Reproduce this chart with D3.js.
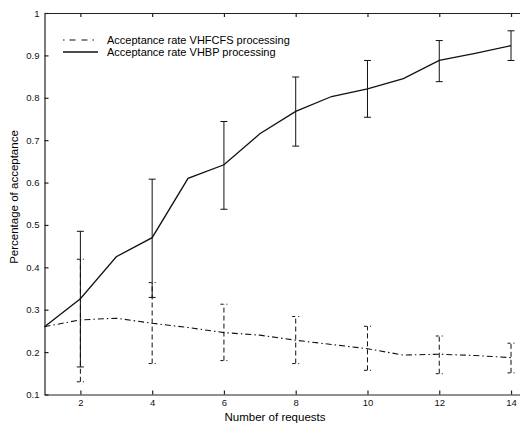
<!DOCTYPE html>
<html>
<head>
<meta charset="utf-8">
<script src="https://cdn.jsdelivr.net/npm/d3@7"></script>
<style>
	body { margin: 0; background: #fff; }
	svg { display: block; font-family: 'Liberation Sans', Arial, sans-serif; }
	.axis path, .axis line { stroke: #222; stroke-width: 1.2; }
	.axis text { font-size: 9.5px; fill: #111; }
</style>
</head>
<body>
<script>
// data
const requests = [1, 2, 3, 4, 5, 6, 7, 8, 9, 10, 11, 12, 13, 14]
const rateVHBP = [0.26, 0.326, 0.425, 0.47, 0.61, 0.642, 0.715, 0.768, 0.803, 0.821, 0.845, 0.888, 0.905, 0.923]
const rateVHFCFS = [0.26, 0.276, 0.28, 0.268, 0.258, 0.246, 0.24, 0.228, 0.218, 0.208, 0.193, 0.195, 0.192, 0.187]

// error bars only at the even request counts
const errX = [2, 4, 6, 8, 10, 12, 14]
const errVHBPLow = [0.165, 0.329, 0.537, 0.686, 0.754, 0.838, 0.888]
const errVHBPHigh = [0.485, 0.608, 0.744, 0.849, 0.888, 0.935, 0.958]
const errVHFCFSLow = [0.13, 0.173, 0.18, 0.173, 0.157, 0.149, 0.151]
const errVHFCFSHigh = [0.419, 0.364, 0.313, 0.284, 0.261, 0.238, 0.221]

const yTicks = [0.1, 0.2, 0.3, 0.4, 0.5, 0.6, 0.7, 0.8, 0.9, 1]
const xTicks = [2, 4, 6, 8, 10, 12, 14]

const legendLabels = ['Acceptance rate VHFCFS processing', 'Acceptance rate VHBP processing']

const width = 520
const height = 425

const svg = d3.select('body').append('svg').attr('width', width).attr('height', height)

// scales (axes box runs a bit past the right border of the picture)
const xscale = d3.scaleLinear().domain([1, 14.25]).range([44.5, 520])
const yscale = d3.scaleLinear().domain([0.1, 1]).range([394.5, 13])

// axes, matlab style ticks pointing inside
const xaxis = d3.axisBottom(xscale).tickValues(xTicks).tickSizeInner(-4).tickSizeOuter(0).tickPadding(5)
svg.append('g').attr('class', 'x axis').attr('transform', `translate(0,${yscale(0.1)})`).call(xaxis)

const xaxisTop = d3.axisTop(xscale).tickValues(xTicks).tickSizeInner(-4).tickSizeOuter(0).tickFormat('')
svg.append('g').attr('class', 'x axis').attr('transform', `translate(0,${yscale(1)})`).call(xaxisTop)

const yaxis = d3
	.axisLeft(yscale)
	.tickValues(yTicks)
	.tickSizeInner(-4)
	.tickSizeOuter(0)
	.tickPadding(5)
	.tickFormat(d => (d === 1 ? '1' : d3.format('.1f')(d)))
svg.append('g').attr('class', 'y axis').attr('transform', `translate(${xscale(1)},0)`).call(yaxis)

// axis titles
svg.append('text')
	.attr('x', 275)
	.attr('y', 421)
	.attr('text-anchor', 'middle')
	.style('font-size', '11.5px')
	.text('Number of requests')

svg.append('text')
	.attr('transform', 'translate(18,197) rotate(-90)')
	.attr('text-anchor', 'middle')
	.style('font-size', '11.5px')
	.text('Percentage of acceptance')

const line = d3
	.line()
	.x((d, i) => xscale(requests[i]))
	.y(d => yscale(d))

const dashDot = '6,3,1.5,3'
const dashed = '5,3'

// error bars
function errorBars(low, high, dash) {
	const grp = svg.append('g').attr('stroke', '#111').attr('stroke-width', 1).attr('fill', 'none')
	errX.forEach((x, i) => {
		const cx = xscale(x)
		grp.append('line')
			.attr('x1', cx).attr('x2', cx)
			.attr('y1', yscale(low[i])).attr('y2', yscale(high[i]))
			.attr('stroke-dasharray', dash)
		;[low[i], high[i]].forEach(v => {
			grp.append('line')
				.attr('x1', cx - 3.5).attr('x2', cx + 3.5)
				.attr('y1', yscale(v)).attr('y2', yscale(v))
				.attr('stroke-dasharray', dash ? '3,3' : null)
		})
	})
}

errorBars(errVHFCFSLow, errVHFCFSHigh, dashed)
errorBars(errVHBPLow, errVHBPHigh, null)

svg.append('path')
	.datum(rateVHFCFS)
	.attr('d', line)
	.attr('fill', 'none')
	.attr('stroke', '#111')
	.attr('stroke-width', 1.1)
	.attr('stroke-dasharray', dashDot)

svg.append('path')
	.datum(rateVHBP)
	.attr('d', line)
	.attr('fill', 'none')
	.attr('stroke', '#111')
	.attr('stroke-width', 1.3)

// legend
const legend = svg.append('g').attr('transform', 'translate(63,40)')
legendLabels.forEach((label, i) => {
	legend.append('line')
		.attr('x1', 0).attr('x2', 35)
		.attr('y1', i * 12).attr('y2', i * 12)
		.attr('stroke', '#111')
		.attr('stroke-width', i === 0 ? 1.1 : 1.3)
		.attr('stroke-dasharray', i === 0 ? '1.5,5,6,6,6,5' : null)
	legend.append('text')
		.attr('x', 44)
		.attr('y', i * 12 + 4)
		.style('font-size', '11px')
		.text(label)
})
</script>
</body>
</html>
